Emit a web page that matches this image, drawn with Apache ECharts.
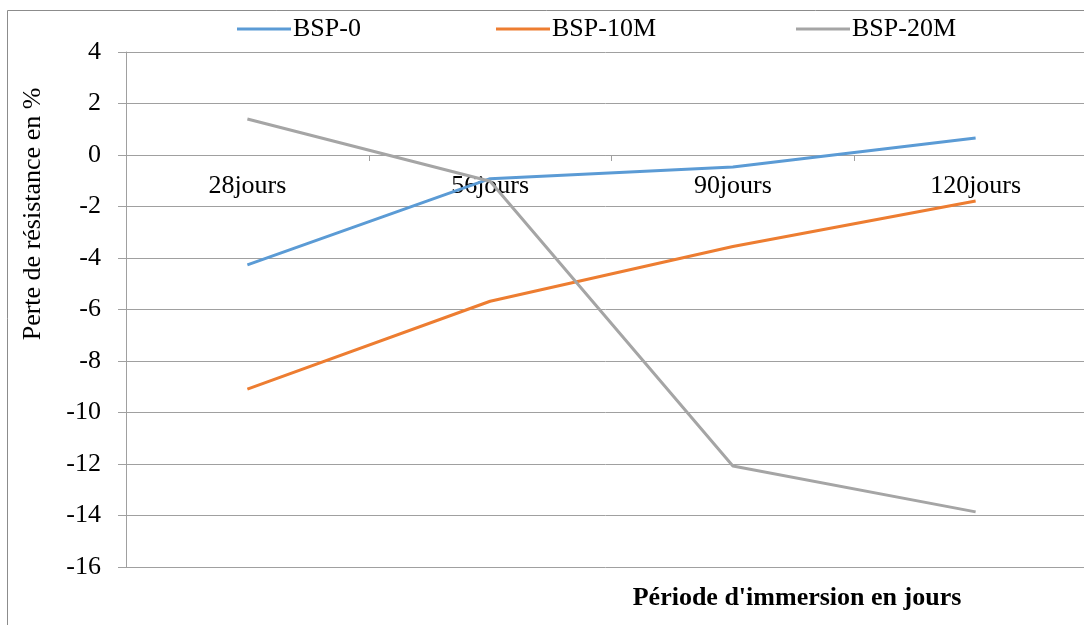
<!DOCTYPE html>
<html>
<head>
<meta charset="utf-8">
<script src="https://cdn.jsdelivr.net/npm/echarts@6/dist/echarts.min.js"></script>
<style>
  html, body { margin: 0; padding: 0; background: #fff; }
  #chart { width: 1084px; height: 625px; }
</style>
</head>
<body>
<div id="chart"></div>
<script>
// Immersion periods (x categories)
const categories = ['28jours', '56jours', '90jours', '120jours'];

// Strength loss in % for each mix
const bsp0 = [-4.27, -0.92, -0.47, 0.66];
const bsp10M = [-9.09, -5.68, -3.55, -1.79];
const bsp20M = [1.40, -1.02, -12.08, -13.86];

const seriesNames = ['BSP-0', 'BSP-10M', 'BSP-20M'];
const seriesColors = ['#5b9bd5', '#ed7d31', '#a5a5a5'];

// y axis range and step
const yMin = -16, yMax = 4, yStep = 2;

const serif = '"Liberation Serif", "Times New Roman", serif';
const fs = 26;

// plot area geometry
const gridTop = 52, gridHeight = 515;
// pixel distance from the bottom of the plot up to the zero line
const zeroOffset = gridHeight * (0 - yMin) / (yMax - yMin);

const chart = echarts.init(document.getElementById('chart'));

const seriesData = [bsp0, bsp10M, bsp20M];
const legendLeft = [232, 491, 791];

chart.setOption({
  animation: false,
  backgroundColor: '#ffffff',
  textStyle: { fontFamily: serif, color: '#000' },
  legend: seriesNames.map((name, i) => ({
    top: 11,
    left: legendLeft[i],
    icon: 'rect',
    itemWidth: 54,
    itemHeight: 3,
    textStyle: { fontFamily: serif, fontSize: fs, color: '#000', padding: [0, 0, 0, -3] },
    data: [name]
  })),
  grid: { left: 126, top: gridTop, width: 971, height: gridHeight, containLabel: false, outerBoundsMode: 'none' },
  xAxis: {
    type: 'category',
    data: categories,
    boundaryGap: true,
    position: 'bottom',
    offset: -zeroOffset,
    axisLine: { onZero: false, lineStyle: { color: '#a0a0a0', width: 1 } },
    axisTick: { show: true, length: 6, inside: false, lineStyle: { color: '#a0a0a0' } },
    axisLabel: { fontFamily: serif, fontSize: fs, color: '#000', margin: 18 },
    splitLine: { show: false }
  },
  yAxis: {
    type: 'value',
    min: yMin,
    max: yMax,
    interval: yStep,
    axisLine: { show: true, lineStyle: { color: '#a0a0a0', width: 1 } },
    axisTick: { show: true, length: 8, lineStyle: { color: '#a0a0a0' } },
    axisLabel: { fontFamily: serif, fontSize: fs, color: '#000', margin: 25 },
    splitLine: { show: true, lineStyle: { color: '#a0a0a0', width: 1 } }
  },
  series: seriesNames.map((name, i) => ({
    name: name,
    type: 'line',
    data: seriesData[i],
    symbol: 'none',
    color: seriesColors[i],
    lineStyle: { width: 3, color: seriesColors[i] },
    z: 3
  })),
  graphic: [
    {
      type: 'rect',
      shape: { x: 7.5, y: 10.5, width: 1200, height: 800 },
      style: { fill: 'none', stroke: '#8c8c8c', lineWidth: 1 },
      silent: true
    },
    {
      type: 'text',
      x: 33,
      y: 214,
      rotation: Math.PI / 2,
      style: {
        text: 'Perte de résistance en %',
        font: fs + 'px ' + serif,
        fill: '#000',
        textAlign: 'center',
        textVerticalAlign: 'middle'
      }
    },
    {
      type: 'text',
      x: 797,
      y: 598,
      style: {
        text: "Période d'immersion en jours",
        font: 'bold ' + fs + 'px ' + serif,
        fill: '#000',
        textAlign: 'center',
        textVerticalAlign: 'middle'
      }
    }
  ]
});
</script>
</body>
</html>
